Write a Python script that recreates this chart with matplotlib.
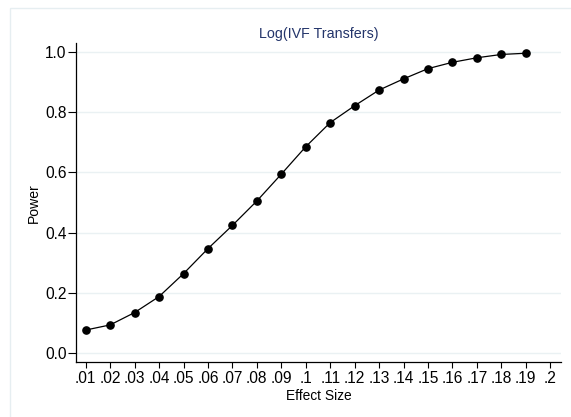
import matplotlib.pyplot as plt
from matplotlib.patches import Rectangle

# Power curve by effect size
effect_size = [0.01, 0.02, 0.03, 0.04, 0.05, 0.06, 0.07, 0.08, 0.09, 0.10,
               0.11, 0.12, 0.13, 0.14, 0.15, 0.16, 0.17, 0.18, 0.19]
power = [0.077, 0.094, 0.135, 0.188, 0.264, 0.347, 0.424, 0.505, 0.594, 0.685,
         0.765, 0.821, 0.873, 0.910, 0.944, 0.965, 0.980, 0.991, 0.995]

x_ticks = [0.01, 0.02, 0.03, 0.04, 0.05, 0.06, 0.07, 0.08, 0.09, 0.10,
           0.11, 0.12, 0.13, 0.14, 0.15, 0.16, 0.17, 0.18, 0.19, 0.20]
x_tick_labels = [".01", ".02", ".03", ".04", ".05", ".06", ".07", ".08", ".09", ".1",
                 ".11", ".12", ".13", ".14", ".15", ".16", ".17", ".18", ".19", ".2"]
y_ticks = [0.0, 0.2, 0.4, 0.6, 0.8, 1.0]
y_tick_labels = ["0.0", "0.2", "0.4", "0.6", "0.8", "1.0"]

plt.rcParams["font.family"] = ["Liberation Sans", "DejaVu Sans"]

fig = plt.figure(figsize=(5.71, 4.17), dpi=100)
fig.patch.set_facecolor("white")

# light outer frame around the graph region
fig.patches.append(Rectangle((10 / 571, -0.05), 1.0, 1 - 8 / 417 + 0.05,
                             transform=fig.transFigure, fill=False,
                             edgecolor="#e6eef1", lw=1.0))

ax = fig.add_axes([76 / 571, 1 - 362 / 417, (561 - 76) / 571, (362 - 43.3) / 417])
ax.set_facecolor("none")

for y in y_ticks:
    ax.axhline(y, color="#eaf1f3", lw=1.0, zorder=0)

ax.plot(effect_size, power, color="black", lw=0.9, marker="o",
        markersize=5.2, markerfacecolor="black", markeredgecolor="black", zorder=3)

ax.set_xlim(0.00603, 0.2044)
ax.set_ylim(-0.029, 1.028)

ax.set_xticks(x_ticks)
ax.set_xticklabels(x_tick_labels)
ax.set_yticks(y_ticks)
ax.set_yticklabels(y_tick_labels)

ax.tick_params(axis="x", length=4, width=0.8, labelsize=11.2, pad=2.5, colors="black")
ax.tick_params(axis="y", length=5.5, width=0.8, labelsize=11.2, pad=1.2, colors="black")

for side in ["top", "right"]:
    ax.spines[side].set_visible(False)
for side in ["left", "bottom"]:
    ax.spines[side].set_linewidth(0.9)
    ax.spines[side].set_color("black")

ax.set_xlabel("Effect Size", fontsize=9.9, labelpad=2)
ax.set_ylabel("Power", fontsize=10.1, labelpad=3)
ax.set_title("Log(IVF Transfers)", fontsize=10.3, color="#23346a", pad=4)

fig.savefig("out.png", dpi=100)
plt.close(fig)
